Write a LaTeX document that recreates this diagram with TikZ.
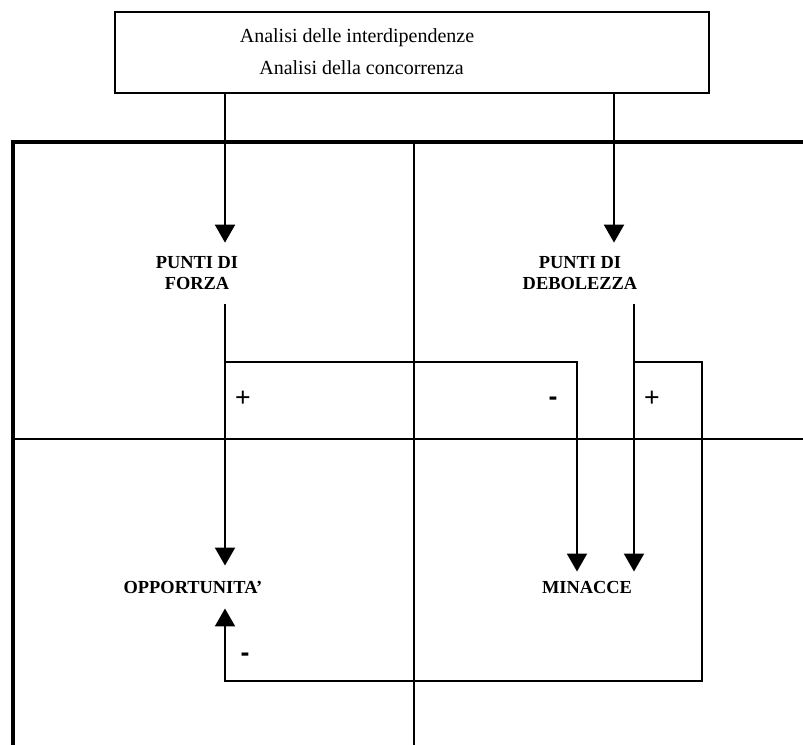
\documentclass[tikz,border=0pt]{standalone}
\usepackage{fontspec}
\setmainfont{Liberation Serif}
\newfontfamily\signfont{Liberation Sans}
\usetikzlibrary{arrows.meta}
\tikzset{
  lbl/.style={font=\bfseries\fontsize{13.8}{15.75}\selectfont, align=center},
  txt/.style={anchor=base, inner sep=0pt, font=\fontsize{15}{18}\selectfont},
  frame/.style={line width=3.2pt},
  wire/.style={line width=1.6pt},
  arr/.style={wire, -{Triangle[length=13.5pt,width=15pt]}},
  sign/.style={inner sep=0pt, font=\signfont\fontsize{20}{20}\selectfont},
  minus/.style={sign, font=\signfont\bfseries\fontsize{20}{20}\selectfont},
}
\begin{document}
\begin{tikzpicture}[x=0.75pt,y=-0.75pt]
\useasboundingbox (0,0) rectangle (803,745);
% quadrants
\draw[frame] (13,745) -- (13,142) -- (803,142);
\draw[wire] (414,142) -- (414,745);
\draw[wire] (13,439) -- (803,439);
% source box
\node[draw, line width=1.8pt, minimum width=445.5pt, minimum height=60.75pt, inner sep=0pt] (analisi) at (412,52.5) {};
\node[txt] (interdip) at (357,43) {Analisi delle interdipendenze};
\node[txt] (concorr) at (361.5,75) {Analisi della concorrenza};
% labels
\node[lbl, inner ysep=10.5pt] (forza) at (197,273.5) {PUNTI DI\\FORZA};
\node[lbl, inner ysep=10.5pt] (debol) at (580,273.5) {PUNTI DI\\DEBOLEZZA};
\node[lbl, inner ysep=11.25pt] (opport) at (193,587) {OPPORTUNITA'};
\node[lbl, inner ysep=6.75pt] (minacce) at (587,587) {MINACCE};
% columns and rows of the connectors
\coordinate (cf) at (225,0);
\coordinate (cd) at (614,0);
\coordinate (cm) at (577,0);
\coordinate (ce) at (634,0);
\coordinate (cr) at (702,0);
\coordinate (br) at (0,362);
\coordinate (bot) at (0,681);
\draw[arr] (analisi.south -| cf) -- (forza.north -| cf);
\draw[arr] (analisi.south -| cd) -- (debol.north -| cd);
\draw[arr] (forza.south -| cf) -- (opport.north -| cf);
\draw[arr] (br -| cf) -| (minacce.north -| cm);
\draw[arr] (debol.south -| ce) -- (minacce.north -| ce);
\draw[arr] (br -| ce) -- (br -| cr) |- (bot -| cf) -- (opport.south -| cf);
% signs
\node[sign] (pf) at (243,399) {+};
\node[minus] (mf) at (553,401) {-};
\node[sign] (pd) at (652,399) {+};
\node[minus] (md) at (245,657) {-};
\end{tikzpicture}
\end{document}
